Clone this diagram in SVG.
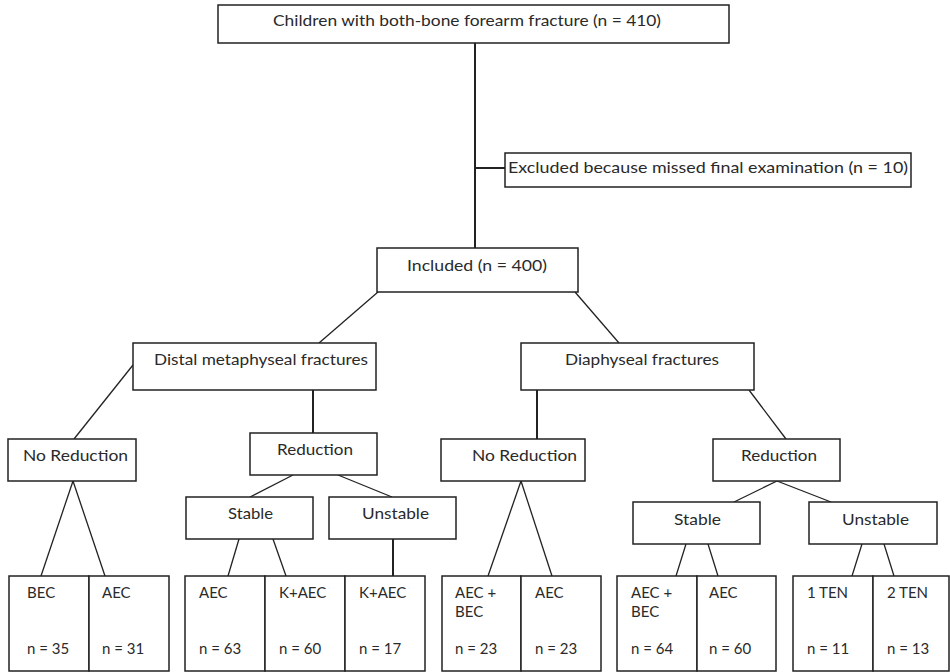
<svg xmlns="http://www.w3.org/2000/svg" width="950" height="672" viewBox="0 0 950 672">
<style>
.b{fill:#fff;stroke:#222;stroke-width:1.5}
.t{font-family:Lato,"Open Sans","Liberation Sans",sans-serif;font-size:15px;fill:#2a2a2a;text-anchor:middle}
.l{font-family:Lato,"Open Sans","Liberation Sans",sans-serif;font-size:15px;fill:#2a2a2a}
.c line{stroke:#222;stroke-width:1.3}
.c .v{stroke-width:2}
</style>
<rect width="950" height="672" fill="#fff"/>
<g class="c" id="connectors">
<line class="v" x1="475" y1="43" x2="475" y2="248"/>
<line class="v" x1="475" y1="168" x2="505" y2="168"/>
<line x1="378" y1="292" x2="319" y2="343"/>
<line x1="575" y1="292" x2="619" y2="343"/>
<line x1="133" y1="365" x2="74" y2="439"/>
<line class="v" x1="313" y1="390" x2="313" y2="433"/>
<line x1="293" y1="475" x2="250" y2="497"/>
<line x1="338" y1="475" x2="392" y2="497"/>
<line x1="73" y1="481" x2="41" y2="576"/>
<line x1="73" y1="481" x2="105" y2="576"/>
<line x1="239" y1="539" x2="228" y2="576"/>
<line x1="273" y1="539" x2="286" y2="576"/>
<line class="v" x1="393" y1="539" x2="393" y2="576"/>
<line class="v" x1="537" y1="390" x2="537" y2="439"/>
<line x1="749" y1="390" x2="786" y2="439"/>
<line x1="777" y1="481" x2="734" y2="502"/>
<line x1="777" y1="481" x2="831" y2="502"/>
<line x1="521" y1="481" x2="488" y2="576"/>
<line x1="521" y1="481" x2="552" y2="576"/>
<line x1="686" y1="544" x2="676" y2="576"/>
<line x1="708" y1="544" x2="718" y2="576"/>
<line x1="862" y1="544" x2="852" y2="576"/>
<line x1="884" y1="544" x2="894" y2="576"/>
</g>
<g id="n-total"><rect class="b" x="218" y="5" width="511" height="38"/><text class="t" x="467" y="26" textLength="388" lengthAdjust="spacingAndGlyphs">Children with both-bone forearm fracture (n = 410)</text></g>
<g id="n-excluded"><rect class="b" x="505" y="153" width="406" height="34"/><text class="t" x="708" y="173" textLength="400" lengthAdjust="spacingAndGlyphs">Excluded because missed final examination (n = 10)</text></g>
<g id="n-included"><rect class="b" x="377" y="248" width="201" height="44"/><text class="t" x="477" y="271" textLength="140" lengthAdjust="spacingAndGlyphs">Included (n = 400)</text></g>
<g id="n-distal"><rect class="b" x="133" y="343" width="243" height="47"/><text class="t" x="261" y="365" textLength="214" lengthAdjust="spacingAndGlyphs">Distal metaphyseal fractures</text></g>
<g id="n-diaph"><rect class="b" x="521" y="343" width="233" height="47"/><text class="t" x="642" y="365" textLength="154" lengthAdjust="spacingAndGlyphs">Diaphyseal fractures</text></g>
<g id="n-noredL"><rect class="b" x="8" y="439" width="128" height="42"/><text class="t" x="75.5" y="461" textLength="105" lengthAdjust="spacingAndGlyphs">No Reduction</text></g>
<g id="n-redL"><rect class="b" x="250" y="433" width="127" height="42"/><text class="t" x="315" y="455" textLength="76" lengthAdjust="spacingAndGlyphs">Reduction</text></g>
<g id="n-stableL"><rect class="b" x="186" y="497" width="127" height="42"/><text class="t" x="250.5" y="519" textLength="45" lengthAdjust="spacingAndGlyphs">Stable</text></g>
<g id="n-unstableL"><rect class="b" x="329" y="497" width="127" height="42"/><text class="t" x="395.5" y="519" textLength="67" lengthAdjust="spacingAndGlyphs">Unstable</text></g>
<g id="n-noredM"><rect class="b" x="441" y="439" width="144" height="42"/><text class="t" x="524.5" y="461" textLength="105" lengthAdjust="spacingAndGlyphs">No Reduction</text></g>
<g id="n-redR"><rect class="b" x="713" y="439" width="127" height="42"/><text class="t" x="779" y="461" textLength="76" lengthAdjust="spacingAndGlyphs">Reduction</text></g>
<g id="n-stableR"><rect class="b" x="633" y="502" width="127" height="42"/><text class="t" x="697.5" y="525" textLength="47" lengthAdjust="spacingAndGlyphs">Stable</text></g>
<g id="n-unstableR"><rect class="b" x="809" y="502" width="128" height="42"/><text class="t" x="875.5" y="525" textLength="67" lengthAdjust="spacingAndGlyphs">Unstable</text></g>
<g id="n-b1"><rect class="b" x="9" y="576" width="80" height="95"/><text class="l" x="27" y="598">BEC</text><text class="l" x="27" y="654">n = 35</text></g>
<g id="n-b2"><rect class="b" x="89" y="576" width="80" height="95"/><text class="l" x="102" y="598">AEC</text><text class="l" x="102" y="654">n = 31</text></g>
<g id="n-b3"><rect class="b" x="185" y="576" width="80" height="95"/><text class="l" x="199" y="598">AEC</text><text class="l" x="199" y="654">n = 63</text></g>
<g id="n-b4"><rect class="b" x="265" y="576" width="80" height="95"/><text class="l" x="279" y="598">K+AEC</text><text class="l" x="279" y="654">n = 60</text></g>
<g id="n-b5"><rect class="b" x="345" y="576" width="80" height="95"/><text class="l" x="359" y="598">K+AEC</text><text class="l" x="359" y="654">n = 17</text></g>
<g id="n-b6"><rect class="b" x="442" y="576" width="79" height="95"/><text class="l" x="455" y="598">AEC +</text><text class="l" x="455" y="617">BEC</text><text class="l" x="455" y="654">n = 23</text></g>
<g id="n-b7"><rect class="b" x="521" y="576" width="80" height="95"/><text class="l" x="535" y="598">AEC</text><text class="l" x="535" y="654">n = 23</text></g>
<g id="n-b8"><rect class="b" x="617" y="576" width="80" height="95"/><text class="l" x="631" y="598">AEC +</text><text class="l" x="631" y="617">BEC</text><text class="l" x="631" y="654">n = 64</text></g>
<g id="n-b9"><rect class="b" x="697" y="576" width="79" height="95"/><text class="l" x="709" y="598">AEC</text><text class="l" x="709" y="654">n = 60</text></g>
<g id="n-b10"><rect class="b" x="793" y="576" width="80" height="95"/><text class="l" x="807" y="598">1 TEN</text><text class="l" x="807" y="654">n = 11</text></g>
<g id="n-b11"><rect class="b" x="873" y="576" width="76" height="95"/><text class="l" x="887" y="598">2 TEN</text><text class="l" x="887" y="654">n = 13</text></g>
</svg>
